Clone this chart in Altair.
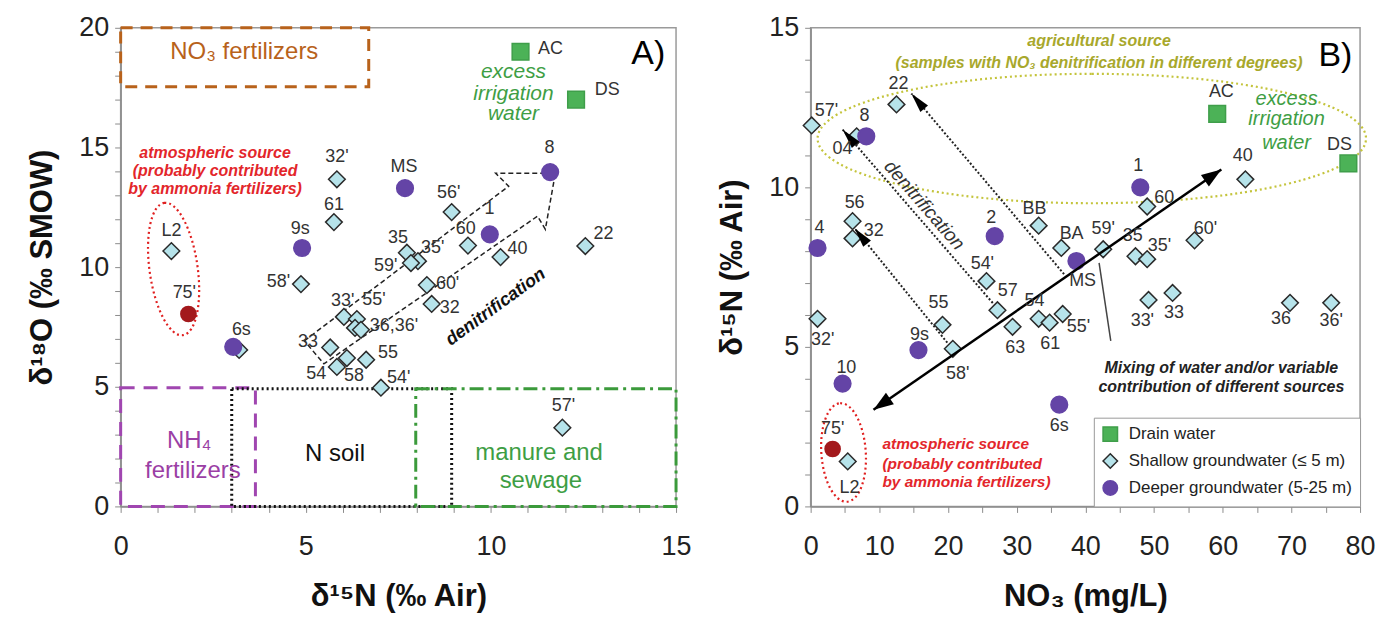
import math
import altair as alt
import pandas as pd

FONT = "Liberation Sans"

# ---------------- Panel A : d15N (x) vs d18O (y) ----------------
A_sh_name = ["6s", "L2", "32'", "61", "56'", "60", "40", "22", "35", "35'", "59'", "58'", "60'",
             "32", "33'", "55'", "36", "36'", "33", "54", "58", "55", "54'", "57'"]
A_sh_x = [3.2, 1.37, 5.84, 5.76, 8.94, 9.38, 10.26, 12.55, 7.73, 8.03, 7.84, 4.87, 8.27,
          8.40, 6.03, 6.38, 6.33, 6.49, 5.66, 5.84, 6.11, 6.63, 7.03, 11.93]
A_sh_y = [6.54, 10.67, 13.67, 11.88, 12.3, 10.9, 10.42, 10.88, 10.6, 10.25, 10.17, 9.29, 9.25,
          8.46, 7.92, 7.83, 7.46, 7.38, 6.64, 5.83, 6.2, 6.13, 4.96, 3.29]
A_dr_name = ["AC", "DS"]
A_dr_x = [10.8, 12.3]
A_dr_y = [19.0, 17.0]
A_dp_name = ["8", "MS", "1", "9s", "6s"]
A_dp_x = [11.6, 7.68, 9.97, 4.90, 3.04]
A_dp_y = [13.97, 13.3, 11.37, 10.8, 6.67]
A_red_x = [1.83]
A_red_y = [8.04]

A_lab = ["L2", "75'", "6s", "9s", "61", "32'", "MS", "56'", "8", "1", "60", "40", "22", "35", "35'",
         "59'", "58'", "60'", "32", "33'", "55'", "36,36'", "33", "54", "58", "55", "54'", "57'", "AC", "DS"]
A_lab_x = [1.37, 1.72, 3.26, 4.85, 5.76, 5.84, 7.65, 8.86, 11.58, 9.96, 9.32, 10.72, 13.04, 7.49, 8.43,
           7.16, 4.26, 8.83, 8.89, 6.0, 6.84, 7.38, 5.06, 5.28, 6.3, 7.22, 7.51, 11.96, 11.61, 13.14]
A_lab_y = [11.5, 8.9, 7.37, 11.58, 12.58, 14.58, 14.17, 13.08, 14.96, 12.42, 11.58, 10.75, 11.38, 11.2, 10.8,
           10.04, 9.38, 9.29, 8.3, 8.58, 8.63, 7.54, 6.88, 5.54, 5.46, 6.42, 5.38, 4.21, 19.1, 17.4]

# source boxes (x1, x2, y1, y2)
box_no3 = [0, 6.7, 17.54, 20]
box_nh4 = [0, 3.64, 0, 4.96]
box_soil = [3.0, 8.94, 0, 4.92]
box_man = [7.97, 15, 0, 4.92]

# hollow denitrification arrow outline
arrA_x = [4.96, 10.48, 10.13, 11.74, 11.47, 11.26, 5.49, 4.96]
arrA_y = [6.92, 13.38, 13.92, 13.92, 11.58, 12.13, 5.96, 6.92]

# ---------------- Panel B : NO3 (x) vs d15N (y) ----------------
B_sh_name = ["57'", "04", "22", "56", "32", "BB", "BA", "40", "60", "59'", "35", "35'", "60'", "33'", "33",
             "36", "36'", "32'", "55", "58'", "54'", "57", "63", "54", "61", "55'", "L2"]
B_sh_x = [0.15, 6.7, 12.5, 6.1, 6.1, 33.2, 36.5, 63.3, 49.0, 42.6, 47.3, 49.0, 55.9, 49.2, 52.7,
          69.8, 75.8, 1.0, 19.2, 20.7, 25.6, 27.2, 29.4, 33.2, 34.8, 36.7, 5.4]
B_sh_y = [11.94, 11.6, 12.6, 8.94, 8.4, 8.8, 8.1, 10.25, 9.4, 8.06, 7.84, 7.75, 8.34, 6.47, 6.69,
          6.38, 6.38, 5.88, 5.69, 4.94, 7.06, 6.15, 5.63, 5.88, 5.76, 6.03, 1.41]
B_dr_name = ["AC", "DS"]
B_dr_x = [59.2, 78.3]
B_dr_y = [12.3, 10.75]
B_dp_name = ["8", "4", "2", "MS", "1", "9s", "10", "6s"]
B_dp_x = [8.1, 1.0, 26.8, 38.7, 48.0, 15.7, 4.65, 36.2]
B_dp_y = [11.6, 8.1, 8.47, 7.69, 10.0, 4.9, 3.85, 3.19]
B_red_x = [3.2]
B_red_y = [1.8]
B_purple_dia_x = [36.2]
B_purple_dia_y = [3.19]

B_lab = ["57'", "8", "04", "22", "56", "32", "4", "2", "BB", "BA", "MS", "1", "60", "40", "AC", "DS",
         "59'", "35", "35'", "60'", "33'", "33", "36", "36'", "32'", "10", "9s", "55", "58'", "54'",
         "57", "63", "54", "61", "55'", "6s", "75'", "L2"]
B_lab_x = [2.3, 7.85, 4.65, 12.8, 6.4, 9.2, 1.3, 26.3, 32.6, 38.0, 39.6, 47.7, 51.5, 62.9, 59.8, 77.0,
           42.6, 46.9, 50.8, 57.5, 48.3, 52.9, 68.5, 75.8, 1.75, 5.2, 15.85, 18.6, 21.4, 25.0,
           28.7, 29.8, 32.6, 34.9, 39.0, 36.2, 3.2, 5.67]
B_lab_y = [12.38, 12.22, 11.19, 13.25, 9.5, 8.63, 8.72, 9.03, 9.31, 8.53, 7.06, 10.66, 9.66, 10.97, 13.0, 11.34,
           8.69, 8.47, 8.16, 8.69, 5.81, 6.06, 5.88, 5.81, 5.22, 4.34, 5.38, 6.38, 4.16, 7.59,
           6.75, 4.97, 6.44, 5.09, 5.63, 2.53, 2.44, 0.59]

# arrows in panel B
mix_x1, mix_y1, mix_x2, mix_y2 = [9.15], [3.03], [59.8], [10.56]
den_x1 = [19.9, 26.9, 36.9]
den_y1 = [5.13, 6.28, 7.28]
den_x2 = [6.39, 4.65, 14.66]
den_y2 = [8.72, 11.81, 12.94]
ptr_x1, ptr_y1, ptr_x2, ptr_y2 = [42.0], [7.63], [43.7], [5.19]

# ---------------- styling ----------------
TYPES = ["Drain water", "Shallow groundwater (\u2264 5 m)", "Deeper groundwater (5-25 m)"]
FILLS = ["#4cb257", "#b6e3ea", "#6444a6"]
STROKES = ["#3f9e4a", "#2a2a2a", "#6444a6"]
SHAPES = ["square", "diamond", "circle"]
PT_SIZE = 280

W_A, H_A = 557, 480
W_B, H_B = 551, 480


def make_panel(xdom, ydom, xvals, xstep, yvals, ystep, xtitle, ytitle):
    xs = alt.Scale(domain=xdom, nice=False, zero=False)
    ys = alt.Scale(domain=ydom, nice=False, zero=False)
    xa = alt.Axis(title=xtitle, values=xvals, labelExpr=f"datum.value % {xstep} === 0 ? datum.label : ''",
                  grid=False, labelFlush=False, labelOverlap=False, tickSize=6, labelPadding=21,
                  titlePadding=22)
    ya = alt.Axis(title=ytitle, values=yvals, labelExpr=f"datum.value % {ystep} === 0 ? datum.label : ''",
                  grid=False, labelFlush=False, labelOverlap=False, tickSize=6, labelPadding=6,
                  titlePadding=20)
    return {"xs": xs, "ys": ys, "xa": xa, "ya": ya}


def X(p, f):
    return alt.X(f"{f}:Q", scale=p["xs"], axis=p["xa"])


def Y(p, f):
    return alt.Y(f"{f}:Q", scale=p["ys"], axis=p["ya"])


def texts(p, t, xs, ys, **kw):
    df = pd.DataFrame({"t": t, "x": xs, "y": ys})
    base = dict(font=FONT)
    base.update(kw)
    return alt.Chart(df).mark_text(**base).encode(x=X(p, "x"), y=Y(p, "y"), text="t:N")


def box(p, b, color, dash, width=3):
    df = pd.DataFrame({"x": [b[0]], "x2": [b[1]], "y": [b[2]], "y2": [b[3]]})
    return alt.Chart(df).mark_rect(fillOpacity=0, stroke=color, strokeWidth=width, strokeDash=dash).encode(
        x=X(p, "x"), x2="x2:Q", y=Y(p, "y"), y2="y2:Q")


def points(p, sh_x, sh_y, dr_x, dr_y, dp_x, dp_y, legend):
    df = pd.DataFrame({
        "x": sh_x + dr_x + dp_x,
        "y": sh_y + dr_y + dp_y,
        "type": [TYPES[1]] * len(sh_x) + [TYPES[0]] * len(dr_x) + [TYPES[2]] * len(dp_x),
    })
    return alt.Chart(df).mark_point(filled=True, opacity=1, size=PT_SIZE, strokeWidth=1.5).encode(
        x=X(p, "x"), y=Y(p, "y"),
        color=alt.Color("type:N", scale=alt.Scale(domain=TYPES, range=FILLS), legend=legend),
        shape=alt.Shape("type:N", scale=alt.Scale(domain=TYPES, range=SHAPES), legend=legend),
        stroke=alt.Stroke("type:N", scale=alt.Scale(domain=TYPES, range=STROKES), legend=legend),
    )


def single_points(p, xs, ys, **kw):
    df = pd.DataFrame({"x": xs, "y": ys})
    return alt.Chart(df).mark_point(**kw).encode(x=X(p, "x"), y=Y(p, "y"))


def ellipse(p, cx, cy, size, rx, ry, color, angle=0):
    path = f"M0,{-ry} A{rx},{ry} 0 1,1 0,{ry} A{rx},{ry} 0 1,1 0,{-ry} Z"
    df = pd.DataFrame({"x": [cx], "y": [cy]})
    return alt.Chart(df).mark_point(shape=path, size=size, filled=False, stroke=color, strokeWidth=2.2,
                                    strokeDash=[2, 3], opacity=1, angle=angle).encode(
        x=X(p, "x"), y=Y(p, "y"))


LABEL_STYLE = dict(fontSize=18, color="#333333")
GREEN_T = "#3e9e44"
RED_T = "#e3262b"

# ================= Panel A =================
pA = make_panel([0, 15], [0, 20], list(range(0, 16)), 5, list(range(0, 21)), 5,
                "\u03b4\u00b9\u2075N (\u2030 Air)", "\u03b4\u00b9\u2078O (\u2030 SMOW)")

arrA_df = pd.DataFrame({"x": arrA_x, "y": arrA_y, "o": list(range(len(arrA_x)))})
arrA = alt.Chart(arrA_df).mark_line(color="#222", strokeWidth=1.5, strokeDash=[5, 3]).encode(
    x=X(pA, "x"), y=Y(pA, "y"), order="o:Q")

layersA = [
    box(pA, box_no3, "#b8621b", [12, 8]),
    box(pA, box_nh4, "#a046b0", [14, 9]),
    box(pA, box_soil, "#111111", [2, 3]),
    box(pA, box_man, "#3b9a3b", [14, 5, 3, 5]),
    arrA,
    ellipse(pA, 1.43, 9.92, 134 ** 2, 0.36, 1, "#e02020", angle=352),
    points(pA, A_sh_x, A_sh_y, A_dr_x, A_dr_y, A_dp_x, A_dp_y, None),
    single_points(pA, A_red_x, A_red_y, filled=True, opacity=1, size=PT_SIZE, shape="circle", color="#a3191c"),
    texts(pA, A_lab, A_lab_x, A_lab_y, **LABEL_STYLE),
    texts(pA, ["NO\u2083 fertilizers"], [3.34], [19.0], fontSize=24, color="#b8621b"),
    texts(pA, ["NH\u2084", "fertilizers"], [1.85, 1.95], [2.75, 1.5], fontSize=24, color="#9b3fa5"),
    texts(pA, ["N soil"], [5.79], [2.21], fontSize=24, color="#111"),
    texts(pA, ["manure and", "sewage"], [11.3, 11.35], [2.25, 1.08], fontSize=24, color=GREEN_T),
    texts(pA, ["excess", "irrigation", "water"], [10.61, 10.61, 10.61], [18.17, 17.25, 16.38],
          fontSize=21, fontStyle="italic", color=GREEN_T),
    texts(pA, ["atmospheric source", "(probably contributed", "by ammonia fertilizers)"],
          [2.55, 2.55, 2.55], [14.75, 14.0, 13.25], fontSize=16, fontStyle="italic", fontWeight="bold",
          color=RED_T),
    texts(pA, ["denitrification"], [10.13], [8.33], fontSize=18, fontStyle="italic", fontWeight="bold",
          color="#111", angle=324),
    texts(pA, ["A)"], [14.25], [18.9], fontSize=34, color="#000"),
]
left = alt.layer(*layersA).properties(width=W_A, height=H_A)

# ================= Panel B =================
pB = make_panel([0, 80], [0, 15], list(range(0, 81, 5)), 10, list(range(0, 16)), 5,
                "NO\u2083 (mg/L)", "\u03b4\u00b9\u2075N (\u2030 Air)")
KX, KY = W_B / 80.0, H_B / 15.0


def head_angle(x1, y1, x2, y2):
    dx = (x2 - x1) * KX
    dy = -(y2 - y1) * KY
    return (math.degrees(math.atan2(dy, dx)) + 90) % 360


def rules(p, x1, y1, x2, y2, **kw):
    df = pd.DataFrame({"x": x1, "y": y1, "x2": x2, "y2": y2})
    return alt.Chart(df).mark_rule(**kw).encode(x=X(p, "x"), y=Y(p, "y"), x2="x2:Q", y2="y2:Q")


def heads(p, hx, hy, ang, path, size):
    df = pd.DataFrame({"x": hx, "y": hy, "a": ang})
    return alt.Chart(df).mark_point(shape=path, size=size, filled=True, color="#000", opacity=1).encode(
        x=X(p, "x"), y=Y(p, "y"), angle=alt.Angle("a:Q", scale=None))


mix_heads_x = [mix_x2[0], mix_x1[0]]
mix_heads_y = [mix_y2[0], mix_y1[0]]
mix_heads_a = [head_angle(mix_x1[0], mix_y1[0], mix_x2[0], mix_y2[0]),
               head_angle(mix_x2[0], mix_y2[0], mix_x1[0], mix_y1[0])]
den_heads_a = [head_angle(a, b, c, d) for a, b, c, d in zip(den_x1, den_y1, den_x2, den_y2)]

LEG = alt.Legend(title=None, orient="bottom-right", offset=0, fillColor="white", strokeColor="#9a9a9a",
                 padding=8, labelFont=FONT, labelFontSize=17, labelColor="#222", symbolSize=210,
                 symbolStrokeWidth=1.5, rowPadding=6, labelOffset=10, labelLimit=0)

layersB = [
    ellipse(pB, 40.94, 11.53, 550 ** 2, 1, 0.236, "#c4c43c"),
    ellipse(pB, 4.79, 1.69, 99 ** 2, 0.45, 1, "#e02020", angle=356),
    rules(pB, den_x1, den_y1, den_x2, den_y2, color="#222", strokeWidth=2, strokeDash=[2, 2]),
    rules(pB, ptr_x1, ptr_y1, ptr_x2, ptr_y2, color="#444", strokeWidth=1.5),
    points(pB, B_sh_x, B_sh_y, B_dr_x, B_dr_y, B_dp_x, B_dp_y, LEG),
    single_points(pB, B_purple_dia_x, B_purple_dia_y, filled=True, opacity=1, size=PT_SIZE, shape="diamond",
                  color="#6444a6"),
    single_points(pB, B_red_x, B_red_y, filled=True, opacity=1, size=PT_SIZE, shape="circle", color="#a3191c"),
    rules(pB, mix_x1, mix_y1, mix_x2, mix_y2, color="#000", strokeWidth=2.5),
    heads(pB, mix_heads_x, mix_heads_y, mix_heads_a, "M0,0 L-0.7,2 L0.7,2 Z", 400),
    heads(pB, den_x2, den_y2, den_heads_a, "M0,0 L-0.5,2 L0.5,2 Z", 400),
    texts(pB, B_lab, B_lab_x, B_lab_y, **LABEL_STYLE),
    texts(pB, ["agricultural source", "(samples with NO\u2083 denitrification in different degrees)"],
          [42.0, 42.0], [14.6, 13.9], fontSize=16, fontStyle="italic", fontWeight="bold", color="#a8a82c"),
    texts(pB, ["excess", "irrigation", "water"], [69.3, 69.3, 69.3], [12.78, 12.13, 11.38],
          fontSize=20, fontStyle="italic", color=GREEN_T),
    texts(pB, ["denitrification"], [16.55], [9.44], fontSize=19, fontStyle="italic", color="#333", angle=49),
    texts(pB, ["Mixing of water and/or variable", "contribution of different sources"],
          [59.8, 59.8], [4.34, 3.75], fontSize=16, fontStyle="italic", fontWeight="bold", color="#222"),
    texts(pB, ["atmospheric source", "(probably contributed", "by ammonia fertilizers)"],
          [10.45, 10.45, 10.45], [1.97, 1.34, 0.75], fontSize=15.5, fontStyle="italic", fontWeight="bold",
          color=RED_T, align="left"),
    texts(pB, ["B)"], [76.4], [14.1], fontSize=34, color="#000"),
]
right = alt.layer(*layersB).properties(width=W_B, height=H_B)

chart = alt.hconcat(left, right, spacing=135, bounds="flush",
                    padding={"left": 26, "top": 12, "right": 4, "bottom": 0},
                    background="white").resolve_scale(
    color="independent", shape="independent", stroke="independent"
).configure_view(stroke="#9a9a9a", strokeWidth=1.5).configure_axis(
    labelFont=FONT, titleFont=FONT, labelFontSize=27, titleFontSize=31, titleFontWeight="bold",
    labelColor="#222", titleColor="#111", domainColor="#8c8c8c", tickColor="#8c8c8c", domainWidth=1.5
)

chart.save("out.html", embed_options={"renderer": "svg", "actions": False})
